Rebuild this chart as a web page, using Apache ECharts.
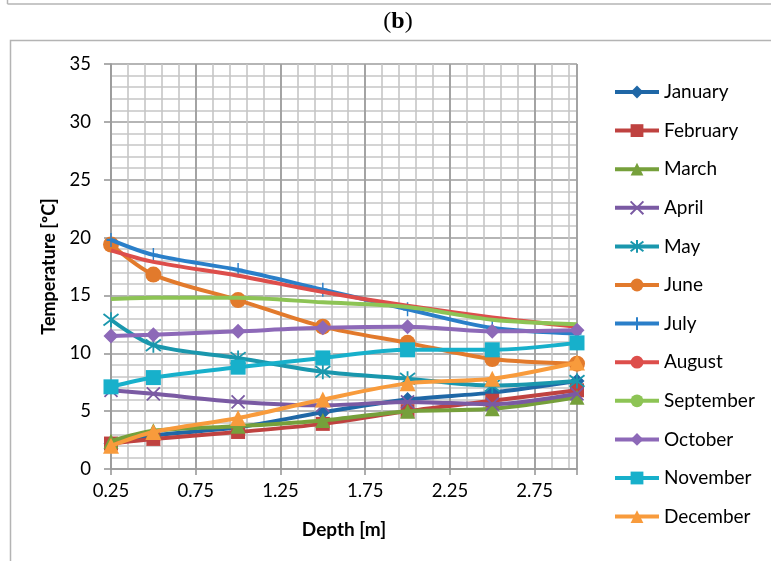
<!DOCTYPE html>
<html>
<head>
<meta charset="utf-8">
<script src="https://cdn.jsdelivr.net/npm/echarts@6/dist/echarts.min.js"></script>
<style>
html,body{margin:0;padding:0;background:#fff;}
#chart{width:771px;height:561px;}
</style>
</head>
<body>
<div id="chart"></div>
<script>
// ---- data ----
const depths = [0.25, 0.5, 1.0, 1.5, 2.0, 2.5, 3.0];
const months = ['January','February','March','April','May','June','July','August','September','October','November','December'];
const january   = [2.2, 2.9, 3.6, 4.9, 6.0, 6.6, 7.6];
const february  = [2.2, 2.6, 3.2, 3.9, 5.0, 5.9, 6.8];
const march     = [2.4, 3.3, 3.7, 4.2, 5.0, 5.2, 6.2];
const april     = [6.8, 6.5, 5.8, 5.5, 5.8, 5.6, 6.5];
const may       = [12.9, 10.7, 9.6, 8.4, 7.8, 7.2, 7.6];
const june      = [19.4, 16.8, 14.6, 12.3, 10.9, 9.5, 9.1];
const july      = [19.8, 18.5, 17.2, 15.5, 13.8, 12.2, 11.7];
const august    = [18.9, 17.9, 16.7, 15.3, 14.1, 13.1, 12.3];
const september = [14.7, 14.8, 14.8, 14.4, 14.0, 12.9, 12.5];
const october   = [11.5, 11.6, 11.9, 12.2, 12.3, 11.9, 12.0];
const november  = [7.1, 7.9, 8.8, 9.6, 10.3, 10.3, 10.9];
const december  = [2.0, 3.2, 4.4, 6.0, 7.4, 7.8, 9.2];
const xTickLabels = ['0.25','0.75','1.25','1.75','2.25','2.75'];
const yTickLabels = ['0','5','10','15','20','25','30','35'];

const values = [january,february,march,april,may,june,july,august,september,october,november,december];
const colors = ['#1f67a6','#bf4240','#76a03b','#7a5aa3','#1a97ad','#e27a2c',
                '#2a7fc9','#dd4e4b','#8dc455','#8d69b8','#17b0cb','#f89b3c'];
const SYM_X = 'path://M0,0L10,10M10,0L0,10';
const SYM_AST = 'path://M0,0L10,10M10,0L0,10M5,-1.5L5,11.5';
const SYM_PLUS = 'path://M5,0L5,12M0,6L10,6';
const symbols = ['diamond','rect','triangle',SYM_X,SYM_AST,'circle',SYM_PLUS,'none','none','diamond','rect','triangle'];
const symSizes = [15,14,15,13,15,16,[9,14],0,0,15,15,16];
const stroked = [false,false,false,true,true,false,true,false,false,false,false,false];

const series = months.map((m, i) => ({
  name: m,
  type: 'line',
  xAxisIndex: 1,
  data: depths.map((d, k) => [d, values[i][k]]),
  symbol: symbols[i],
  symbolSize: symSizes[i],
  smooth: 0.3,
  showAllSymbol: true,
  lineStyle: { color: colors[i], width: 4 },
  itemStyle: stroked[i]
    ? { color: colors[i], borderColor: colors[i], borderWidth: 1.8 }
    : { color: colors[i], borderWidth: 0 },
  emphasis: { disabled: true },
  z: 2 + i * 0.01
}));

const chart = echarts.init(document.getElementById('chart'), null, { renderer: 'canvas' });
const FONT = 'Lato';
chart.setOption({
  animation: false,
  backgroundColor: '#fff',
  grid: { left: 111, top: 64, right: 194, bottom: 92, containLabel: false },
  xAxis: [
    { // minor grid lines every 0.1 from 0.25
      type: 'value', min: 0.25, max: 3.0, interval: 0.1, position: 'bottom',
      axisLine: { show: false }, axisTick: { show: false }, axisLabel: { show: false },
      splitLine: { show: true, lineStyle: { color: '#c6c6c6', width: 1.6 } },
      z: 0
    },
    { // major ticks and labels every 0.5 from 0.25
      type: 'value', min: 0.25, max: 3.0, interval: 0.5, position: 'bottom',
      name: 'Depth [m]', nameLocation: 'middle', nameGap: 51,
      nameTextStyle: { fontFamily: FONT, fontSize: 19, fontWeight: 'bold', color: '#000' },
      axisLine: { show: true, onZero: false, lineStyle: { color: '#999', width: 1.6 } },
      axisTick: { show: true, inside: false, length: 6, lineStyle: { color: '#999', width: 1.6 } },
      axisLabel: {
        show: true, margin: 13, fontFamily: FONT, fontSize: 18.5, color: '#000',
        formatter: v => { const s = xTickLabels.find(t => Math.abs(parseFloat(t) - v) < 1e-6); return s || ''; }
      },
      splitLine: { show: true, lineStyle: { color: '#9c9c9c', width: 1.7 } },
      z: 1
    }
  ],
  yAxis: {
    type: 'value', min: 0, max: 35, interval: 5,
    name: 'Temperature [ºC]', nameLocation: 'middle', nameGap: 50,
    nameTextStyle: { fontFamily: FONT, fontSize: 18, fontWeight: 'bold', color: '#000' },
    axisLine: { show: true, lineStyle: { color: '#999', width: 1.6 } },
    axisTick: { show: true, inside: false, length: 7, lineStyle: { color: '#999', width: 1.6 } },
    axisLabel: {
      margin: 20, fontFamily: FONT, fontSize: 18.5, color: '#000',
      formatter: v => yTickLabels.find(t => Number(t) === v) || ''
    },
    splitLine: { show: true, lineStyle: { color: '#9c9c9c', width: 1.7 } },
    minorTick: { show: false, splitNumber: 5 },
    minorSplitLine: { show: true, lineStyle: { color: '#c6c6c6', width: 1.6 } }
  },
  legend: {
    orient: 'vertical', left: 613, top: 81, padding: 0,
    itemWidth: 44, itemHeight: 16, itemGap: 16.6,
    lineStyle: { width: 4 },
    textStyle: { fontFamily: FONT, fontSize: 19, lineHeight: 22, color: '#000' },
    data: months
  },
  graphic: [
    { type: 'line', shape: { x1: 7.5, y1: 4, x2: 771, y2: 4 }, style: { stroke: '#b4b4b4', lineWidth: 1.5 }, silent: true },
    { type: 'line', shape: { x1: 7.5, y1: 0, x2: 7.5, y2: 4 }, style: { stroke: '#b4b4b4', lineWidth: 1.5 }, silent: true },
    { type: 'rect', shape: { x: 10.5, y: 40.5, width: 800, height: 600 }, style: { fill: 'none', stroke: '#b4b4b4', lineWidth: 1.5 }, silent: true },
    { type: 'text', x: 398, y: 22, silent: true,
      style: { text: '{p|(}{b|b}{p|)}', align: 'center', verticalAlign: 'middle',
        rich: {
          p: { fontFamily: 'Liberation Serif', fontSize: 24, color: '#000' },
          b: { fontFamily: 'Liberation Serif', fontSize: 24, fontWeight: 'bold', color: '#000' }
        } } }
  ],
  series: series
});
</script>
</body>
</html>
